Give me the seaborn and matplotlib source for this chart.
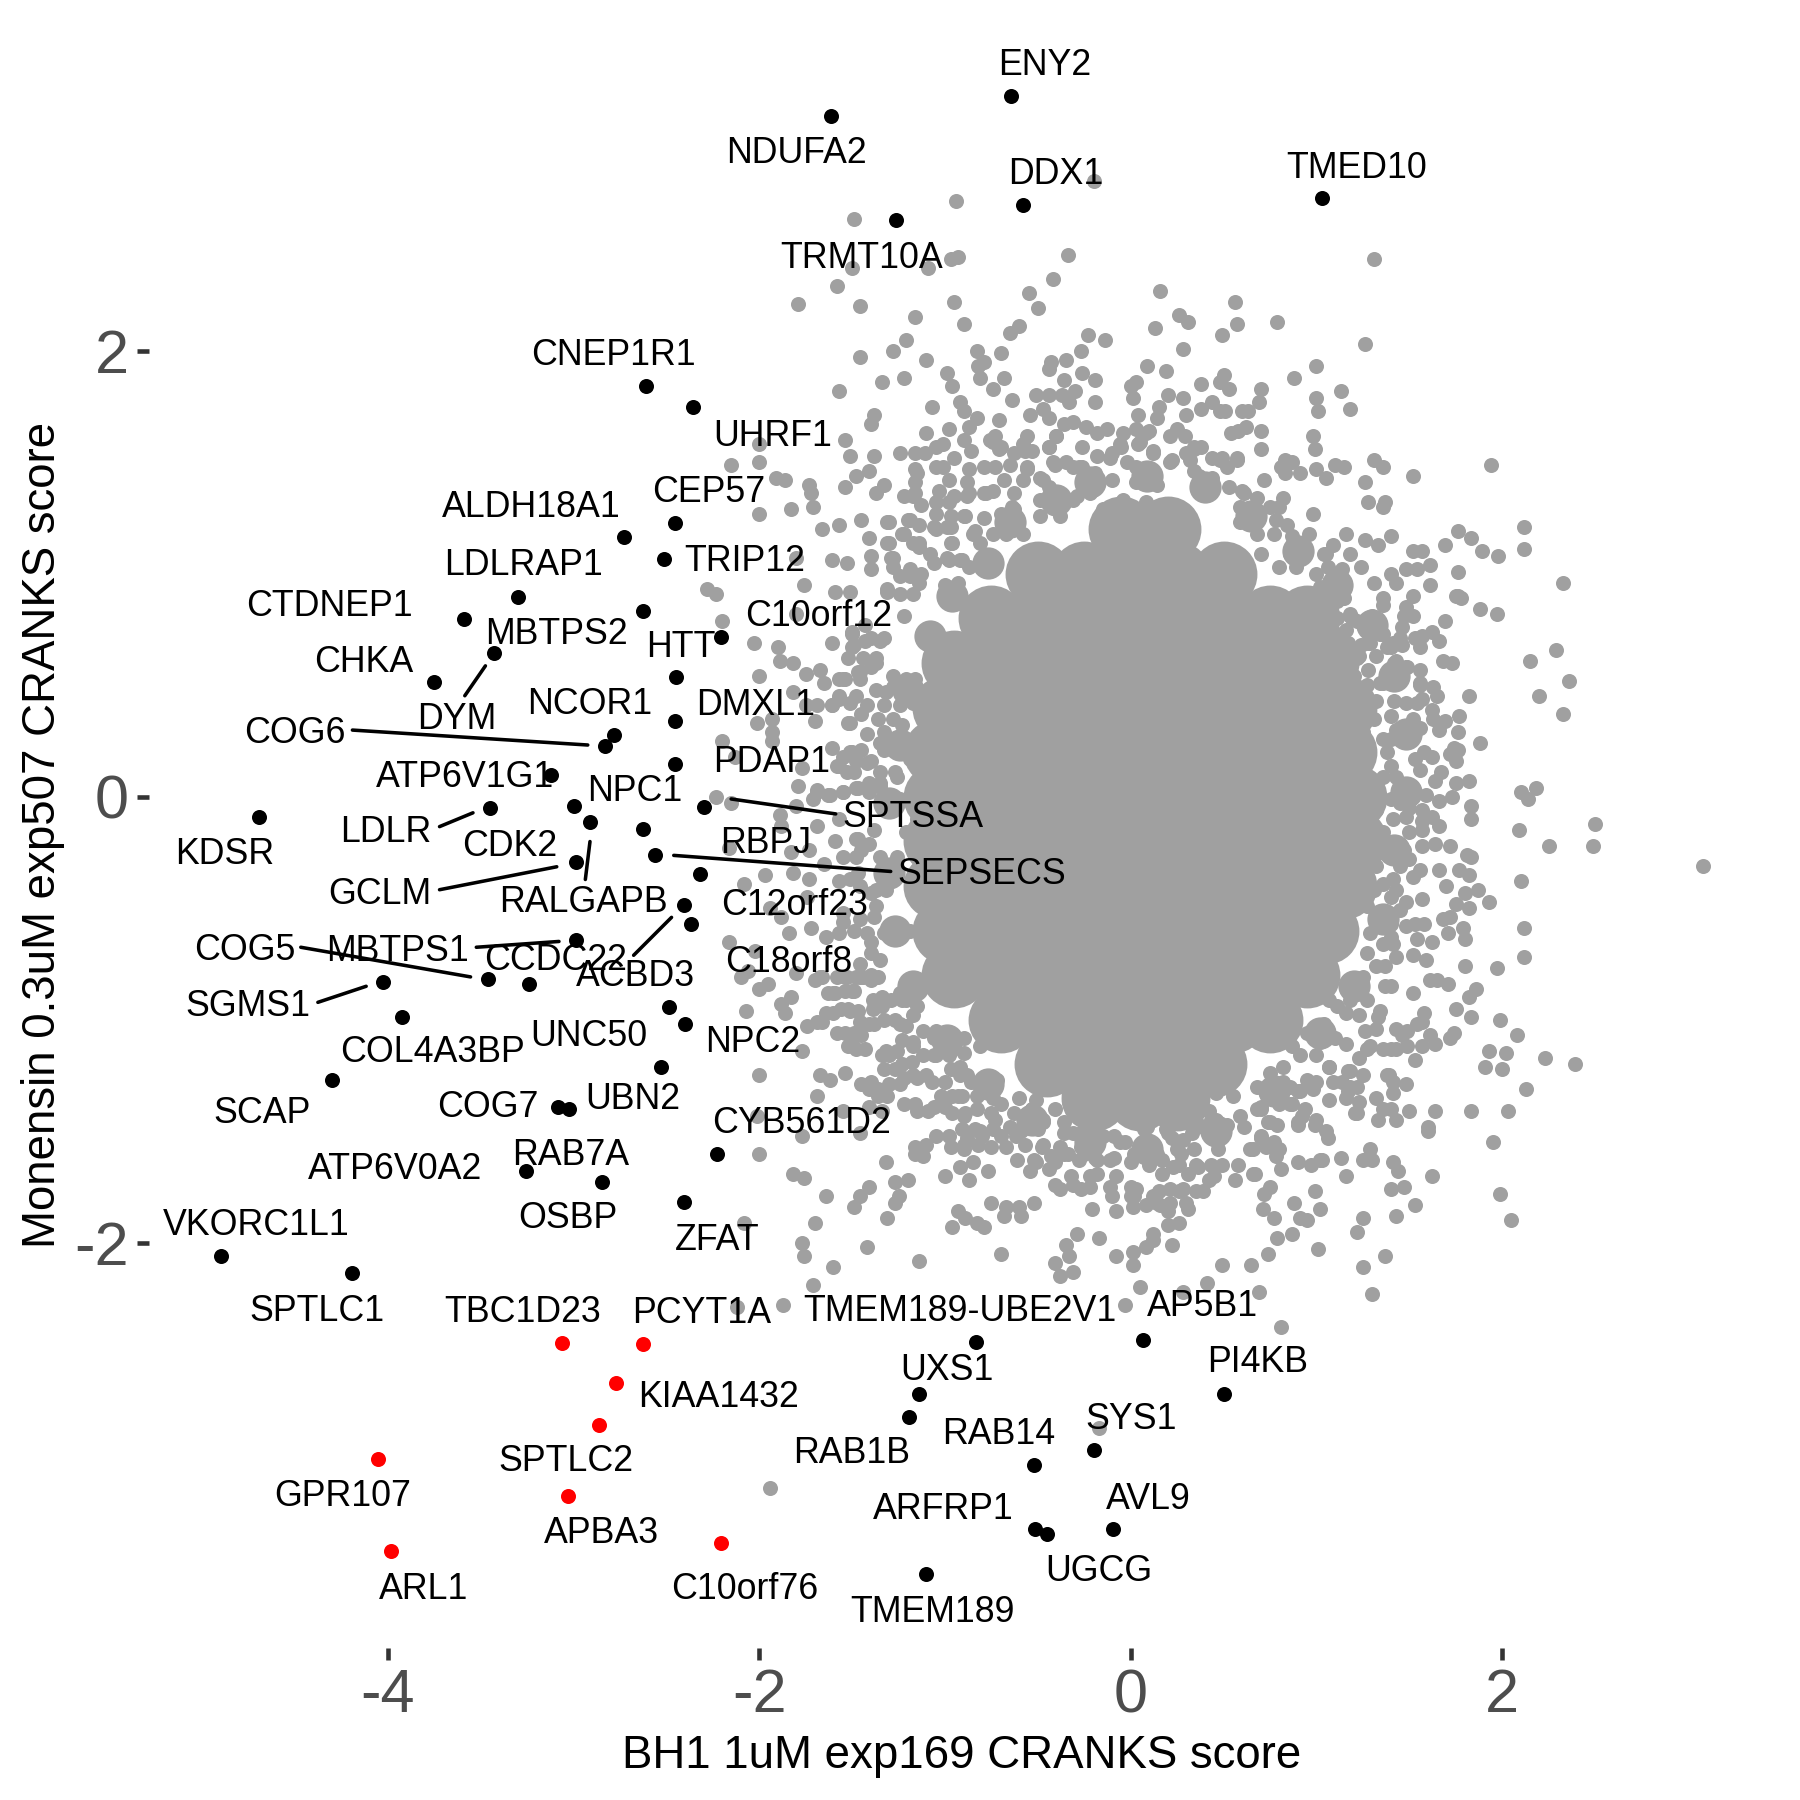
import seaborn as sns
import pandas as pd
import matplotlib.pyplot as plt

grey_top_left = [
    (-0.94,2.67),(-1.49,2.59),(-0.34,2.43),(-0.93,2.42),(-0.97,2.41),(-1.50,2.37),(-1.09,2.37),(-1.58,2.29),
    (-0.42,2.32),(-0.55,2.26),(-1.79,2.21),(-1.46,2.20),(-0.95,2.22),(-0.50,2.19),(-1.16,2.15),(-0.90,2.12),
    (-0.60,2.11),(-0.65,2.08),(-1.21,2.05),(-1.28,2.00),(-1.46,1.97),(-1.10,1.96),(-0.83,2.00),(-0.70,1.99),
    (-0.79,1.95),(-0.82,1.93),(-0.81,1.88),(-0.99,1.90),(-1.22,1.88),(-1.34,1.86),(-0.96,1.84),(-0.68,1.88),
    (-0.74,1.83),(-1.57,1.82),(-0.64,1.78),(-0.92,1.77),(-0.90,1.73),(-1.07,1.75),(-1.38,1.71),(-1.40,1.67),
    (-0.83,1.70),(-0.87,1.66),(-0.71,1.69),(-0.98,1.65),(-1.10,1.63),(-1.54,1.60),(-0.90,1.60),(-1.01,1.58),
    (-1.05,1.57),(-0.73,1.62),(-0.76,1.60),(-0.70,1.57),(-1.24,1.54),(-1.51,1.53),(-1.38,1.53),(-1.16,1.54),
    (-1.11,1.54),(-2.00,1.58),(-2.00,1.50),(-2.15,1.49),(-1.41,1.46),(-1.48,1.44),(-1.91,1.43),(-1.86,1.42),
    (-1.73,1.40),(-1.72,1.36),(-1.54,1.39),(-1.33,1.40),(-1.37,1.36),(-0.95,1.52),(-1.16,1.47),(-1.16,1.41),
    (-1.16,1.36),(-1.05,1.48),(-1.01,1.48),(-0.98,1.42),(-0.87,1.47),(-0.79,1.48),(-0.73,1.48),(-0.65,1.49),
    (-0.56,1.62),(-0.58,1.58),(-0.53,1.55),(-0.56,1.48),(-0.58,1.42),(-0.68,1.42),(-1.83,1.29),(-1.71,1.30),
    (-2.00,1.27),(-1.66,1.20),(-1.57,1.22),(-1.45,1.24),(-1.30,1.23),(-1.41,1.16),(-1.30,1.14),(-1.20,1.24),
    (-1.22,1.35),(-1.13,1.31),(-1.14,1.22),(-1.22,1.18),(-1.06,1.21),(-0.96,1.14),(-1.14,1.14),(-1.80,1.07),
    (-1.61,1.06),(-1.53,1.05),(-1.40,1.08),(-1.40,1.02),(-1.28,1.07),(-1.28,1.03),(-2.28,0.93),(-2.23,0.91),
    (-1.76,0.95),(-1.59,0.92),(-1.51,0.92),(-1.31,0.93),(-1.06,1.05),(-0.99,1.07),(-0.92,1.06),(-1.19,0.99),
    (-1.14,0.96),(-1.00,0.95),(-0.93,0.96),(-0.23,2.07),(-0.27,2.00),(-0.35,1.96),(-0.43,1.95),(-0.44,1.92),
    (-0.36,1.87),(-0.26,1.90),(-0.19,1.87),(-0.51,1.80),(-0.44,1.80),(-0.37,1.80),(-0.33,1.77),(-0.30,1.82),
    (-0.19,1.77),(-0.54,1.71),(-0.47,1.74),(-0.44,1.70),(-0.36,1.67),(-0.31,1.68),(-0.24,1.66),(-0.40,1.62),
    (-0.44,1.57),(-0.26,1.57),(-0.41,1.49),(-0.35,1.50),(-0.26,1.48),(-0.49,1.43),(-0.44,1.39),(-0.31,1.33),
    (-0.22,1.36),(-0.79,1.36),(-0.74,1.37),(-0.88,1.35),(-1.03,1.37),(-0.63,1.29),(-0.79,1.25),(-0.89,1.26),
    (-0.70,1.27),(-0.99,1.21),(-0.85,1.18),(-0.20,2.76),
]
grey_top_right = [
    (1.31,2.41),(0.16,2.27),(0.56,2.22),(0.26,2.16),(0.31,2.13),(0.79,2.13),(0.13,2.10),(0.57,2.12),
    (0.49,2.07),(-0.14,2.05),(0.28,2.01),(1.26,2.03),(1.00,1.93),(0.09,1.93),(0.19,1.91),(0.88,1.88),
    (0.50,1.89),(0.48,1.86),(0.53,1.83),(0.38,1.85),(0.03,1.86),(0.00,1.84),(0.01,1.79),(0.20,1.80),
    (0.28,1.79),(0.70,1.83),(0.69,1.77),(1.00,1.79),(1.13,1.82),(1.01,1.73),(1.18,1.74),(0.15,1.75),
    (0.14,1.70),(0.04,1.71),(0.30,1.71),(0.38,1.74),(0.44,1.77),(0.48,1.73),(0.51,1.73),(0.60,1.73),
    (0.63,1.73),(0.62,1.66),(0.58,1.64),(0.54,1.63),(0.70,1.64),(0.98,1.62),(0.99,1.56),(0.70,1.56),
    (1.31,1.51),(1.36,1.48),(1.94,1.49),(0.83,1.51),(0.87,1.50),(0.81,1.48),(0.83,1.45),(0.91,1.45),
    (1.00,1.47),(1.05,1.43),(1.10,1.49),(1.15,1.48),(1.52,1.44),(1.26,1.41),(0.72,1.42),(1.28,1.32),
    (1.37,1.32),(1.36,1.30),(0.68,1.34),(0.82,1.34),(0.75,1.30),(0.80,1.30),(0.98,1.27),(2.12,1.21),
    (2.12,1.11),(1.76,1.19),(1.83,1.16),(1.69,1.13),(1.89,1.10),(1.98,1.08),(1.52,1.10),(1.57,1.10),
    (1.61,1.04),(1.54,1.02),(1.48,1.02),(1.40,1.00),(1.43,0.96),(1.31,0.96),(1.61,0.95),(1.76,1.01),
    (2.33,0.96),(1.40,1.17),(1.33,1.13),(1.26,1.15),(1.16,1.18),(1.09,1.13),(1.05,1.09),(1.18,1.09),
    (1.24,1.03),(1.14,1.02),(0.96,1.18),(1.52,0.90),(1.76,0.90),(1.36,0.89),(1.15,0.89),(1.10,0.89),
    (0.57,1.51),(0.52,1.48),(0.60,1.37),(0.53,1.39),(0.48,1.51),(0.38,1.57),(0.34,1.57),(0.30,1.54),
    (0.21,1.62),(0.29,1.62),(0.25,1.65),(0.08,1.63),(0.03,1.65),(-0.04,1.63),(-0.13,1.65),(0.04,1.58),
    (-0.05,1.57),(0.12,1.55),(0.22,1.51),(-0.10,1.54),
]
grey_right = [
    (1.97,0.82),(1.88,0.84),(1.78,0.89),(1.75,0.90),(1.69,0.79),(1.52,0.81),(1.48,0.85),(1.36,0.86),
    (1.30,0.81),(1.46,0.76),(1.35,0.73),(1.62,0.74),(1.66,0.70),(1.57,0.72),(1.53,0.71),(1.56,0.67),
    (1.28,0.69),(1.24,0.68),(1.46,0.68),(1.38,0.67),(2.29,0.66),(2.15,0.61),(1.68,0.61),(1.73,0.60),
    (2.36,0.52),(1.56,0.57),(1.48,0.58),(1.56,0.51),(2.20,0.45),(1.63,0.49),(1.65,0.45),(1.57,0.44),
    (1.82,0.45),(2.33,0.37),(1.77,0.36),(1.62,0.39),(1.63,0.35),(1.69,0.34),(1.66,0.30),(1.76,0.29),
    (1.52,0.35),(1.56,0.31),(1.48,0.30),(1.88,0.24),(1.48,0.25),(1.74,0.22),(1.76,0.21),(1.72,0.19),
    (1.75,0.16),(1.58,0.20),(1.62,0.18),(1.53,0.17),(1.56,0.12),(1.40,0.14),(1.67,0.11),(1.64,0.07),
    (1.75,0.06),(1.82,0.07),(2.18,0.04),(2.10,0.02),(2.14,-0.01),(1.73,0.00),(1.66,-0.02),(1.83,-0.04),
    (1.83,-0.10),(1.52,0.04),(1.59,0.01),(2.50,-0.12),(2.09,-0.15),(2.25,-0.22),(2.49,-0.22),(3.08,-0.31),
    (1.62,-0.09),(1.66,-0.13),(1.57,-0.11),(1.50,-0.16),(1.57,-0.15),(1.64,-0.21),(1.72,-0.22),(1.57,-0.22),
    (1.81,-0.26),(1.83,-0.27),(1.77,-0.33),(1.82,-0.35),(1.66,-0.33),(1.70,-0.40),(1.56,-0.33),(1.52,-0.36),
    (2.10,-0.38),(1.80,-0.43),(1.87,-0.42),(1.93,-0.47),(1.57,-0.46),(1.82,-0.50),(1.75,-0.48),(1.48,-0.47),
    (1.45,-0.51),(1.72,-0.54),(1.68,-0.55),(2.12,-0.59),(1.79,-0.59),(1.71,-0.61),(1.80,-0.64),(1.58,-0.57),
    (1.53,-0.57),(1.48,-0.58),(1.40,-0.57),(1.33,-0.52),(1.62,-0.65),(1.54,-0.64),(1.41,-0.66),
]
grey_bottom_right = [
    (2.12,-0.72),(1.97,-0.77),(1.80,-0.76),(1.59,-0.73),(1.52,-0.71),(1.43,-0.72),(1.37,-0.76),(1.37,-0.85),
    (1.40,-0.85),(1.61,-0.82),(1.65,-0.82),(1.71,-0.84),(1.86,-0.86),(1.82,-0.90),(1.52,-0.88),(1.75,-0.95),
    (1.83,-0.99),(1.99,-1.00),(1.58,-0.97),(1.57,-1.01),(1.54,-1.02),(1.34,-0.96),(1.33,-0.99),(1.43,-1.04),
    (1.49,-1.05),(1.46,-1.07),(1.32,-1.04),(1.26,-1.05),(1.74,-1.06),(1.72,-1.08),(2.08,-1.07),(1.61,-1.07),
    (1.64,-1.11),(1.57,-1.12),(1.49,-1.12),(1.43,-1.13),(1.40,-1.13),(1.36,-1.13),(1.93,-1.14),(2.02,-1.15),
    (2.23,-1.17),(2.39,-1.20),(1.91,-1.21),(2.00,-1.22),(1.53,-1.18),(1.29,-1.12),(1.23,-1.17),(1.10,-1.08),
    (1.16,-1.11),(1.07,-1.21),(1.17,-1.23),(1.25,-1.25),(1.38,-1.25),(1.41,-1.28),(1.48,-1.29),(1.41,-1.33),
    (1.09,-1.28),(1.14,-1.28),(1.22,-1.30),(1.17,-1.32),(2.13,-1.31),(1.32,-1.35),(1.07,-1.36),(1.16,-1.35),
    (1.00,-1.28),(0.98,-1.31),(0.91,-1.32),(1.23,-1.37),(1.21,-1.42),(1.36,-1.40),(1.40,-1.40),(1.50,-1.41),
    (1.64,-1.41),(1.83,-1.41),(2.03,-1.41),(1.33,-1.45),(1.43,-1.45),(1.60,-1.48),(1.60,-1.50),(0.94,-1.40),
    (0.92,-1.43),(0.90,-1.47),(1.00,-1.45),(0.99,-1.47),(1.05,-1.50),(1.06,-1.53),(1.95,-1.55),(0.80,-1.38),
    (0.87,-1.38),(0.70,-1.40),(0.74,-1.46),(0.79,-1.47),(0.70,-1.53),(0.77,-1.55),(0.66,-1.58),(0.73,-1.57),
    (0.80,-1.58),(0.78,-1.61),(1.29,-1.58),(1.25,-1.63),(1.30,-1.63),(1.13,-1.62),(1.02,-1.63),(0.97,-1.65),
    (0.90,-1.64),(0.81,-1.67),(0.67,-1.69),(1.16,-1.70),(1.41,-1.64),(1.44,-1.68),(1.62,-1.70),(1.40,-1.76),
    (1.47,-1.75),(1.99,-1.78),(0.75,-1.75),(0.72,-1.78),(0.99,-1.77),(0.88,-1.82),(1.53,-1.83),(1.02,-1.85),
    (0.71,-1.85),(0.77,-1.89),(0.91,-1.89),(0.95,-1.90),(1.25,-1.89),(1.43,-1.88),(2.05,-1.90),(1.22,-1.95),
    (0.87,-1.96),(0.79,-1.98),(0.74,-2.05),(1.01,-2.03),(1.37,-2.06),(1.25,-2.11),(0.65,-2.10),(1.30,-2.23),
    (0.69,-2.22),(0.81,-2.38),
]
grey_bottom_left = [
    (-2.10,-0.81),(-2.00,-0.86),(-1.95,-0.84),(-1.83,-0.90),(-1.88,-0.93),(-1.86,-0.97),(-2.07,-0.96),(-1.70,-0.82),
    (-1.63,-0.88),(-1.54,-0.87),(-1.58,-0.81),(-1.44,-0.81),(-1.39,-0.91),(-1.39,-0.95),(-1.56,-0.95),(-1.51,-0.96),
    (-1.64,-0.97),(-1.69,-1.01),(-1.74,-1.03),(-1.58,-1.06),(-1.46,-1.01),(-1.49,-1.06),(-1.50,-1.11),(-1.52,-1.12),
    (-1.48,-1.13),(-1.38,-1.02),(-1.33,-1.00),(-1.24,-1.02),(-1.23,-1.09),(-1.17,-1.12),(-1.29,-0.91),(-1.21,-0.91),
    (-1.77,-1.14),(-1.32,-1.14),(-1.34,-1.16),(-1.12,-1.05),(-1.06,-1.08),(-1.12,-1.16),(-1.06,-1.16),(-0.98,-1.16),
    (-1.23,-1.20),(-1.33,-1.22),(-1.17,-1.25),(-1.22,-1.26),(-2.00,-1.25),(-1.67,-1.25),(-1.62,-1.27),(-1.54,-1.24),
    (-1.45,-1.29),(-1.41,-1.31),(-1.36,-1.34),(-1.30,-1.29),(-1.07,-1.28),(-0.97,-1.22),(-0.92,-1.25),(-0.86,-1.28),
    (-1.69,-1.34),(-1.02,-1.34),(-1.06,-1.39),(-0.91,-1.34),(-1.22,-1.38),(-1.15,-1.41),(-1.34,-1.41),(-1.41,-1.39),
    (-1.55,-1.41),(-2.01,-1.43),(-0.96,-1.42),(-0.89,-1.42),(-0.60,-1.35),(-0.70,-1.38),(-0.75,-1.42),(-0.53,-1.40),
    (-1.77,-1.52),(-1.46,-1.51),(-1.05,-1.52),(-0.91,-1.49),(-0.88,-1.53),(-0.81,-1.50),(-0.73,-1.45),(-0.70,-1.52),
    (-0.59,-1.50),(-0.47,-1.46),(-0.36,-1.51),(-0.31,-1.51),(-0.23,-1.51),(-0.18,-1.54),(-1.16,-1.57),(-1.12,-1.61),
    (-1.16,-1.60),(-0.97,-1.57),(-0.75,-1.57),(-0.57,-1.56),(-0.48,-1.57),(-0.43,-1.61),(-0.36,-1.60),(-2.00,-1.60),
    (-0.90,-1.58),(-0.85,-1.64),(-0.92,-1.66),(-1.32,-1.64),(-0.61,-1.63),(-0.51,-1.64),(-0.54,-1.68),(-0.28,-1.63),
    (-0.19,-1.62),(-0.11,-1.63),(0.02,-1.60),(0.13,-1.58),(0.17,-1.63),(0.34,-1.58),(-0.03,-1.55),(0.07,-1.49),
    (0.20,-1.51),(0.28,-1.54),(0.37,-1.47),(0.43,-1.45),(-1.82,-1.69),(-1.76,-1.71),(-1.00,-1.70),(-0.77,-1.68),
    (-0.87,-1.72),(-1.20,-1.72),(-1.27,-1.73),(-1.41,-1.75),(-1.46,-1.79),(-1.49,-1.84),(-1.64,-1.79),(-1.25,-1.79),
    (-1.27,-1.82),(-1.31,-1.89),(-0.32,-1.70),(-0.41,-1.74),(-0.38,-1.76),(-0.18,-1.69),(-0.22,-1.75),(-0.11,-1.75),
    (-0.10,-1.79),(0.00,-1.79),(0.10,-1.65),(0.17,-1.69),(0.23,-1.66),(0.31,-1.69),(0.35,-1.65),(0.43,-1.65),
    (0.42,-1.72),(0.15,-1.77),(0.21,-1.76),(0.26,-1.77),(0.01,-1.84),(0.08,-1.83),(0.14,-1.82),(0.20,-1.86),
    (0.31,-1.85),(-0.75,-1.82),(-0.67,-1.84),(-0.68,-1.88),(-0.60,-1.84),(-0.59,-1.88),(-0.52,-1.82),(-0.21,-1.85),
    (-0.08,-1.86),(-0.93,-1.86),(-0.89,-1.89),(-0.83,-1.91),(-0.79,-1.93),(-0.96,-1.93),(-1.70,-1.91),(-2.08,-1.91),
    (-1.77,-2.00),(-1.76,-2.06),(-1.42,-2.02),(-1.60,-2.11),(-1.14,-2.08),(-0.70,-2.05),(-1.71,-2.19),(-1.87,-2.28),
    (-2.12,-2.29),(-0.29,-1.96),(-0.17,-1.98),(-0.35,-2.01),(-0.33,-2.06),(-0.41,-2.09),(-0.31,-2.13),(-0.38,-2.15),
    (-0.08,-2.06),(0.01,-2.04),(0.01,-2.10),(0.08,-2.02),(0.12,-1.99),(0.12,-1.96),(0.22,-2.01),(0.20,-1.92),
    (0.26,-1.91),(0.05,-2.20),(-0.03,-2.28),(0.28,-2.22),(0.41,-2.18),(0.49,-2.10),(-0.17,-2.83),(-1.94,-3.10),
]
grey_left = [
    (-1.31,0.92),(-2.20,0.79),(-1.80,0.82),(-1.50,0.73),(-2.03,0.69),(-1.90,0.67),(-1.61,0.69),(-1.89,0.61),
    (-1.82,0.60),(-1.50,0.67),(-1.52,0.62),(-1.43,0.70),(-1.35,0.70),(-2.00,0.54),(-1.75,0.55),(-1.67,0.57),
    (-1.65,0.51),(-1.55,0.53),(-1.46,0.56),(-1.37,0.60),(-1.82,0.47),(-1.75,0.41),(-1.69,0.41),(-1.93,0.35),
    (-2.01,0.33),(-1.93,0.29),(-1.93,0.25),(-1.70,0.34),(-1.61,0.41),(-1.57,0.44),(-1.48,0.45),(-1.52,0.33),
    (-1.45,0.37),(-2.20,0.25),(-2.13,0.18),(-1.61,0.22),(-1.77,0.13),(-1.57,0.14),(-1.51,0.20),(-1.42,0.15),
    (-1.49,0.11),(-1.79,0.05),(-1.69,0.02),(-1.63,0.01),(-1.71,-0.01),(-1.55,0.02),(-1.47,0.04),(-1.35,0.06),
    (-2.23,0.00),(-2.15,-0.03),(-1.80,-0.04),(-1.89,-0.08),(-1.88,-0.13),(-1.69,-0.13),(-1.57,-0.10),(-1.59,-0.20),
    (-1.48,-0.19),(-2.16,-0.23),(-1.83,-0.25),(-1.73,-0.24),(-1.65,-0.30),(-1.55,-0.27),(-1.97,-0.35),(-1.82,-0.34),
    (-1.73,-0.37),(-2.08,-0.39),(-1.57,-0.38),(-1.46,-0.40),(-1.94,-0.50),(-1.88,-0.54),(-1.74,-0.45),(-1.55,-0.52),
    (-1.46,-0.55),(-1.72,-0.59),(-1.84,-0.61),(-1.64,-0.63),(-2.16,-0.65),(-2.02,-0.69),(-2.06,-0.78),(-1.80,-0.79),
    (-1.60,-0.88),(-1.50,-0.87),(-1.53,-0.81),(-1.46,-0.81),(-1.40,-0.82),(-1.67,-0.81),
]
# dense ring around the solid middle
grey_ring_top = [
    (-0.86,1.55),(-0.74,1.59),(-0.71,1.56),(-0.63,1.54),(-0.57,1.55),(-0.56,1.47),(-1.15,1.45),(-1.17,1.35),
    (-0.88,1.41),(-0.95,1.35),(-0.87,1.36),(-0.78,1.36),(-0.63,1.36),(-1.05,1.32),(-0.98,1.32),(-0.97,1.26),
    (-1.05,1.27),(-0.90,1.26),(-0.64,1.30),(-0.62,1.25),(-1.19,1.24),(-1.05,1.20),(-0.97,1.21),(-0.84,1.19),
    (-1.31,1.23),(-1.23,1.18),(-1.31,1.14),(-0.97,1.14),(-1.17,1.14),(-1.14,1.12),(-1.08,1.09),(-1.29,1.07),
    (-1.19,1.02),(-1.13,1.00),(-1.24,0.99),(-0.98,1.06),(-0.91,1.06),(-0.87,1.03),(-0.81,1.14),(-0.76,1.08),
    (-0.74,1.18),(-0.67,1.18),(-0.58,1.18),(-0.47,1.42),(-0.42,1.50),(-0.28,1.48),(-0.49,1.33),(-0.40,1.33),
    (-0.29,1.35),(-0.20,1.38),(-0.18,1.53),(-0.11,1.52),(-0.02,1.50),(0.03,1.48),(0.12,1.54),(0.21,1.50),
    (-0.10,1.42),(0.03,1.41),(0.14,1.40),(-0.31,1.48),(-0.19,1.45),(-0.49,1.26),(-0.38,1.26),(-0.15,1.29),
    (-0.04,1.33),(0.08,1.32),(-0.06,1.58),(0.05,1.59),(0.10,1.64),(-0.44,1.57),(-0.40,1.62),(-0.18,1.63),
    (0.34,1.56),(0.44,1.52),(0.49,1.52),(0.57,1.52),(0.32,1.51),(0.34,1.46),(0.44,1.43),(0.37,1.44),
    (0.61,1.36),(0.44,1.38),(0.59,1.30),(0.69,1.26),(0.78,1.24),(0.84,1.22),(0.59,1.23),(0.68,1.18),
    (0.77,1.18),(0.87,1.17),(0.94,1.11),(0.86,1.09),(0.70,1.09),(0.80,1.03),(0.89,1.03),(1.04,1.09),
    (1.06,1.03),(1.00,1.00),(1.09,0.95),(1.02,0.94),(1.05,0.88),(1.11,0.88),(1.18,0.82),(1.19,0.80),
    (0.98,0.81),(1.04,0.81),(1.11,0.80),(1.16,0.75),(1.17,0.69),(1.07,0.73),(0.98,0.77),(1.29,0.69),
    (1.22,0.62),(1.32,0.63),(1.34,0.73),(1.30,0.80),(1.40,0.67),(1.45,0.71),(1.47,0.81),(1.42,0.60),
    (1.49,0.58),(1.56,0.50),(1.34,0.51),(1.39,0.54),(1.20,0.54),(1.27,0.50),(1.13,0.59),
]
grey_ring_left = [
    (-1.24,0.91),(-1.17,0.91),(-1.22,0.81),(-1.50,0.74),(-1.43,0.77),(-1.49,0.68),(-1.40,0.71),(-1.33,0.71),
    (-1.44,0.62),(-1.37,0.62),(-1.47,0.56),(-1.40,0.58),(-1.46,0.53),(-1.57,0.53),(-1.54,0.53),(-1.28,0.54),
    (-1.21,0.53),(-1.16,0.53),(-1.37,0.48),(-1.32,0.47),(-1.28,0.49),(-1.57,0.45),(-1.61,0.41),(-1.51,0.42),
    (-1.42,0.41),(-1.33,0.41),(-1.24,0.41),(-1.17,0.42),(-1.36,0.35),(-1.28,0.35),(-1.51,0.33),(-1.42,0.28),
    (-1.33,0.29),(-1.23,0.32),(-1.21,0.26),(-1.50,0.20),(-1.55,0.18),(-1.45,0.21),(-1.33,0.21),(-1.24,0.21),
    (-1.35,0.24),(-1.58,0.14),(-1.53,0.11),(-1.48,0.16),(-1.40,0.16),(-1.35,0.11),(-1.27,0.11),(-1.19,0.17),
    (-1.41,0.06),(-1.35,0.05),(-1.41,0.02),(-1.26,0.09),(-1.48,0.04),(-1.55,0.02),(-1.62,0.01),(-1.69,0.03),
    (-1.15,0.06),(-1.12,0.00),(-1.24,-0.01),(-1.47,-0.19),(-1.45,-0.24),(-1.48,-0.27),(-1.38,-0.15),(-1.41,-0.21),
    (-1.35,-0.27),(-1.26,-0.27),(-1.21,-0.16),(-1.15,-0.10),(-1.14,-0.22),(-1.51,-0.37),(-1.47,-0.34),(-1.37,-0.42),
    (-1.32,-0.42),(-1.37,-0.49),(-1.40,-0.43),(-1.38,-0.54),(-1.55,-0.56),(-1.57,-0.61),(-1.49,-0.60),(-1.42,-0.61),
    (-1.40,-0.65),(-1.33,-0.61),(-1.26,-0.64),(-1.40,-0.70),(-1.35,-0.73),(-1.26,-0.58),(-1.19,-0.60),(-1.46,-0.75),
    (-1.40,-0.80),(-1.54,-0.81),(-1.48,-0.81),(-1.36,-0.81),(-1.66,-0.81),(-1.59,-0.88),(-1.49,-0.87),(-1.34,-0.90),
    (-1.34,-0.94),(-1.24,-0.88),(-1.23,-0.91),(-1.15,-0.94),(-1.17,-0.98),(-1.52,-0.95),(-1.47,-0.96),(-1.60,-0.97),
    (-1.66,-1.01),(-1.41,-1.02),(-1.45,-1.07),(-1.43,-1.13),(-1.54,-1.06),(-1.27,-1.00),(-1.21,-1.03),(-1.17,-1.10),
    (-1.05,-1.05),(-0.99,-1.09),(-1.05,-1.16),(-0.97,-1.14),(-0.90,-1.08),(-0.81,-1.12),(-0.90,-1.15),(-1.26,-1.14),
    (-1.30,-1.16),(-1.27,-1.22),(-1.18,-1.19),(-1.15,-1.26),(-1.10,-1.25),(-1.24,-1.29),(-1.00,-1.28),(-0.92,-1.21),
    (-0.88,-1.25),(-0.78,-1.28),(-0.83,-1.34),(-0.96,-1.34),(-0.93,-1.34),(-1.00,-1.39),(-1.09,-1.41),(-1.16,-1.38),
    (-0.90,-1.43),(-0.83,-1.40),(-0.74,-1.35),(-0.72,-1.27),(-0.84,-1.49),(-0.80,-1.52),(-1.40,-1.28),(-1.36,-1.31),
    (-1.31,-1.34),(-0.98,-1.52),(-0.90,-1.56),(-1.10,-1.56),(-0.82,-1.56),(-0.74,-1.49),
]
grey_ring_bottom = [
    (-0.49,-1.25),(-0.51,-1.36),(-0.63,-1.42),(-0.53,-1.40),(-0.47,-1.45),(-0.41,-1.40),(-0.36,-1.46),(-0.65,-1.48),
    (-0.62,-1.52),(-0.50,-1.49),(-0.67,-1.57),(-0.47,-1.56),(-0.38,-1.57),(-0.34,-1.60),(-0.27,-1.51),(-0.22,-1.52),
    (-0.27,-1.57),(-0.15,-1.52),(-0.09,-1.52),(-0.06,-1.55),(-0.25,-1.60),(-0.18,-1.63),(-0.09,-1.62),(0.00,-1.64),
    (-0.52,-1.63),(-0.41,-1.64),(-0.44,-1.67),(-0.22,-1.70),(-0.31,-1.74),(-0.27,-1.76),(-0.08,-1.70),(0.00,-1.75),
    (0.03,-1.76),(0.02,-1.79),(0.12,-1.79),(0.28,-1.76),(0.35,-1.77),(0.39,-1.77),(0.16,-1.83),(0.21,-1.82),
    (0.30,-1.82),(0.07,-1.40),(0.09,-1.48),(0.09,-1.55),(0.19,-1.49),(0.22,-1.53),(0.14,-1.60),(0.25,-1.58),
    (0.27,-1.60),(0.26,-1.65),(0.36,-1.66),(0.33,-1.51),(0.39,-1.48),(0.42,-1.41),(0.46,-1.45),(0.44,-1.53),
    (0.47,-1.58),(0.49,-1.65),(0.45,-1.70),(0.58,-1.65),(0.56,-1.72),(0.66,-1.69),(0.52,-1.47),(0.61,-1.48),
    (0.59,-1.43),(0.68,-1.40),(0.75,-1.46),(0.64,-1.58),(0.70,-1.52),(0.90,-1.46),(1.03,-1.63),(0.46,-1.33),
    (0.55,-1.34),(0.70,-1.39),(0.80,-1.37),(0.86,-1.38),(0.90,-1.32),(0.95,-1.27),(1.07,-1.21),(1.18,-1.30),
    (1.18,-1.23),(1.22,-1.42),(1.27,-1.13),(1.39,-1.25),(-0.33,-1.30),(-0.33,-1.37),(-0.17,-1.39),(-0.02,-1.40),
    (0.12,-1.40),(-0.17,-1.31),(0.28,-1.34),
]
grey_ring_right = [
    (1.18,0.81),(1.22,0.79),(1.13,0.73),(1.23,0.63),(1.36,0.73),(1.41,0.69),(1.43,0.61),(1.28,0.57),
    (1.36,0.51),(1.40,0.54),(1.32,0.43),(1.42,0.43),(1.48,0.42),(1.54,0.42),(1.40,0.36),(1.31,0.35),
    (1.43,0.30),(1.23,0.40),(1.25,0.29),(1.36,0.26),(1.40,0.26),(1.38,0.20),(1.27,0.17),(1.36,0.09),
    (1.43,0.09),(1.45,0.05),(1.52,0.00),(1.45,-0.03),(1.57,-0.06),(1.50,-0.05),(1.32,0.03),(1.40,-0.01),
    (1.32,-0.06),(1.41,-0.10),(1.48,-0.09),(1.36,-0.16),(1.43,-0.22),(1.47,-0.24),(1.50,-0.28),(1.45,-0.31),
    (1.41,-0.37),(1.36,-0.25),(1.32,-0.31),(1.36,-0.39),(1.40,-0.45),(1.43,-0.42),(1.31,-0.42),(1.27,-0.49),
    (1.32,-0.55),(1.29,-0.61),(1.40,-0.63),(1.36,-0.66),(1.27,-0.70),(1.32,-0.76),(1.25,-0.81),(1.23,-0.85),
    (1.27,-0.91),(1.23,-0.98),(1.16,-0.97),(1.11,-0.94),(1.07,-0.91),(1.18,-0.91),(1.04,-1.02),(0.95,-1.06),
    (0.87,-1.12),(1.02,-1.10),(1.00,-1.16),(0.91,-1.16),(0.82,-1.21),(0.75,-1.24),(0.82,-1.28),(0.68,-1.30),
    (0.73,-1.33),(0.86,-1.30),
]
# solid middle of the cloud: too many overplotted genes to read one by one, so
# it is drawn as bigger discs that give the same filled shape
core_points = [
    (-0.05,1.2),(0.2,1.2),
    (-0.5,1.0),(-0.25,1.0),(0,1.0),(0.25,1.0),(0.5,1.0),
    (-0.75,0.8),(-0.5,0.8),(-0.25,0.8),(0,0.8),(0.25,0.8),(0.5,0.8),(0.75,0.8),(0.95,0.8),
    (-0.95,0.6),(-0.7,0.6),(-0.45,0.6),(-0.2,0.6),(0.05,0.6),(0.3,0.6),(0.55,0.6),(0.8,0.6),(1.05,0.6),
    (-1.0,0.4),(-0.75,0.4),(-0.5,0.4),(-0.25,0.4),(0,0.4),(0.25,0.4),(0.5,0.4),(0.75,0.4),(1.0,0.4),(1.15,0.4),
    (-1.05,0.2),(-0.8,0.2),(-0.55,0.2),(-0.3,0.2),(-0.05,0.2),(0.2,0.2),(0.45,0.2),(0.7,0.2),(0.95,0.2),(1.15,0.2),
    (-1.05,0),(-0.8,0),(-0.55,0),(-0.3,0),(-0.05,0),(0.2,0),(0.45,0),(0.7,0),(0.95,0),(1.2,0),
    (-1.05,-0.2),(-0.8,-0.2),(-0.55,-0.2),(-0.3,-0.2),(-0.05,-0.2),(0.2,-0.2),(0.45,-0.2),(0.7,-0.2),(0.95,-0.2),(1.2,-0.2),
    (-1.05,-0.4),(-0.8,-0.4),(-0.55,-0.4),(-0.3,-0.4),(-0.05,-0.4),(0.2,-0.4),(0.45,-0.4),(0.7,-0.4),(0.95,-0.4),(1.15,-0.4),
    (-1.0,-0.6),(-0.75,-0.6),(-0.5,-0.6),(-0.25,-0.6),(0,-0.6),(0.25,-0.6),(0.5,-0.6),(0.75,-0.6),(1.05,-0.6),
    (-0.95,-0.8),(-0.7,-0.8),(-0.45,-0.8),(-0.2,-0.8),(0.05,-0.8),(0.3,-0.8),(0.55,-0.8),(0.8,-0.8),(0.95,-0.8),
    (-0.7,-1.0),(-0.45,-1.0),(-0.2,-1.0),(0.05,-1.0),(0.3,-1.0),(0.55,-1.0),(0.75,-1.0),
    (-0.45,-1.2),(-0.2,-1.2),(0.05,-1.2),(0.3,-1.2),(0.45,-1.2),
    (-0.2,-1.35),(0.05,-1.35),(0.25,-1.35),
]
# edge of that solid part, same stand-in with smaller discs
core_edge = [
    (-0.77,1.05),(-0.96,0.90),(-1.08,0.72),(-0.65,1.23),(-0.40,1.33),(-1.20,0.48),(-1.24,0.23),(-1.30,-0.03),
    (-1.30,-0.34),(-1.27,-0.60),(-1.17,-0.85),(-0.99,-1.09),(-0.77,-1.29),(-0.53,-1.45),(-0.22,-1.55),(0.09,-1.58),
    (0.46,-1.50),(0.77,-1.32),(1.02,-1.06),(1.20,-0.85),(1.36,-0.55),(1.42,-0.24),(1.48,0.02),(1.48,0.28),
    (1.42,0.54),(1.30,0.77),(1.11,0.95),(0.90,1.10),(0.65,1.26),(0.40,1.39),(0.09,1.44),(-0.22,1.41),
]

# highlighted genes
black_x = [-0.643,-1.613,-0.581,1.032,-1.261,-2.608,-2.355,-2.726,-2.454,-2.515,-3.300,-3.591,-2.627,-2.206,-2.447,
           -3.752,-3.430,-2.781,-2.454,-2.831,-2.454,-3.121,-2.998,-2.299,-3.449,-2.911,-2.627,-4.691,-2.559,-2.985,
           -2.318,-2.404,-2.367,-2.985,-3.461,-3.239,-4.023,-3.925,-2.485,-2.398,-4.302,-2.528,-3.084,-3.022,-2.225,
           -3.257,-2.849,-2.404,-4.895,-4.190,-0.834,0.068,0.501,-1.137,-1.193,-0.198,-0.519,-0.513,-0.093,-0.451,-1.100]
black_y = [3.141,3.054,2.652,2.683,2.585,1.843,1.746,1.164,1.226,1.066,0.896,0.798,0.834,0.716,0.536,
           0.515,0.644,0.278,0.340,0.227,0.149,0.098,-0.041,-0.046,-0.051,-0.113,-0.144,-0.093,-0.263,-0.294,
           -0.345,-0.484,-0.572,-0.644,-0.819,-0.839,-0.829,-0.989,-0.942,-1.020,-1.272,-1.210,-1.390,-1.401,-1.601,
           -1.679,-1.730,-1.818,-2.060,-2.137,-2.446,-2.436,-2.678,-2.678,-2.781,-2.930,-2.997,-3.285,-3.285,-3.306,-3.486]
red_x = [-3.059,-2.627,-2.769,-2.862,-4.054,-3.028,-3.980,-2.206]
red_y = [-2.451,-2.456,-2.631,-2.817,-2.971,-3.136,-3.383,-3.347]

# gene names and where the label sits
label_names = ["ENY2","NDUFA2","DDX1","TMED10","TRMT10A","CNEP1R1","UHRF1","ALDH18A1","CEP57","TRIP12","LDLRAP1",
               "CTDNEP1","MBTPS2","C10orf12","HTT","CHKA","DYM","NCOR1","DMXL1","COG6","PDAP1","ATP6V1G1","NPC1",
               "SPTSSA","LDLR","CDK2","RBPJ","KDSR","SEPSECS","GCLM","RALGAPB","C12orf23","C18orf8","MBTPS1","ACBD3",
               "COG5","CCDC22","SGMS1","COL4A3BP","UNC50","NPC2","SCAP","UBN2","COG7","RAB7A","CYB561D2","ATP6V0A2",
               "OSBP","ZFAT","VKORC1L1","SPTLC1","TMEM189-UBE2V1","AP5B1","PI4KB","UXS1","RAB1B","SYS1","RAB14",
               "ARFRP1","AVL9","UGCG","TMEM189","TBC1D23","PCYT1A","KIAA1432","SPTLC2","GPR107","APBA3","ARL1","C10orf76"]
label_x = [-0.464,-1.799,-0.402,1.218,-1.446,-2.787,-1.928,-3.226,-2.274,-2.077,-3.269,
           -4.314,-3.090,-1.681,-2.423,-4.128,-3.628,-2.911,-2.021,-4.499,-1.934,-3.585,-2.670,
           -1.174,-4.011,-3.344,-1.965,-4.876,-0.803,-4.042,-2.948,-1.811,-1.842,-3.949,-2.664,
           -4.771,-3.096,-4.753,-3.758,-2.917,-2.033,-4.679,-2.682,-3.461,-3.016,-1.774,-3.962,
           -3.028,-2.225,-4.709,-4.382,-0.921,0.389,0.686,-0.989,-1.502,0.000,-0.711,
           -1.007,0.093,-0.173,-1.069,-3.276,-2.311,-2.219,-3.041,-4.240,-2.849,-3.807,-2.077]
label_y = [3.290,2.899,2.801,2.832,2.425,1.993,1.627,1.308,1.375,1.066,1.050,
           0.865,0.742,0.819,0.680,0.613,0.360,0.427,0.422,0.294,0.165,0.098,0.036,
           -0.082,-0.149,-0.211,-0.196,-0.247,-0.335,-0.427,-0.463,-0.474,-0.731,-0.680,-0.793,
           -0.675,-0.721,-0.927,-1.133,-1.061,-1.092,-1.406,-1.344,-1.380,-1.596,-1.452,-1.658,
           -1.880,-1.977,-1.910,-2.297,-2.297,-2.276,-2.523,-2.559,-2.935,-2.781,-2.848,
           -3.182,-3.141,-3.460,-3.646,-2.302,-2.307,-2.683,-2.971,-3.126,-3.290,-3.543,-3.543]

# repel segments: x0, y0, x1, y1
seg_x0 = [-3.585,-4.190,-2.151,-3.721,-2.460,-3.721,-2.911,-3.523,-2.676,-4.468,-4.376]
seg_y0 = [0.453,0.299,-0.010,-0.134,-0.263,-0.417,-0.201,-0.675,-0.711,-0.675,-0.922]
seg_x1 = [-3.474,-2.923,-1.588,-3.541,-1.292,-3.090,-2.936,-3.078,-2.472,-3.554,-4.116]
seg_y1 = [0.587,0.232,-0.077,-0.072,-0.335,-0.314,-0.371,-0.649,-0.541,-0.808,-0.850]

x_ticks = [-4, -2, 0, 2]
y_ticks = [-2, 0, 2]
x_title = "BH1 1uM exp169 CRANKS score"
y_title = "Monensin 0.3uM exp507 CRANKS score"

grey_color = "#A0A0A0"

sns.set_style("white")
plt.rcParams['font.family'] = ['Liberation Sans', 'DejaVu Sans']
plt.rcParams['axes.unicode_minus'] = False

fig = plt.figure(figsize=(6, 6), dpi=300)
ax = fig.add_axes([0.0829, 0.0844, 0.912, 0.9105])

grey_all = (grey_top_left + grey_top_right + grey_right + grey_bottom_right + grey_bottom_left + grey_left
            + grey_ring_top + grey_ring_left + grey_ring_bottom + grey_ring_right)
df_grey = pd.DataFrame(grey_all, columns=["x", "y"])
df_core = pd.DataFrame(core_points, columns=["x", "y"])
df_edge = pd.DataFrame(core_edge, columns=["x", "y"])

sns.scatterplot(data=df_core, x="x", y="y", color=grey_color, s=250, linewidth=0, ax=ax, zorder=2)
sns.scatterplot(data=df_edge, x="x", y="y", color=grey_color, s=60, linewidth=0, ax=ax, zorder=2)
sns.scatterplot(data=df_grey, x="x", y="y", color=grey_color, s=13, linewidth=0, ax=ax, zorder=2)
sns.scatterplot(x=black_x, y=black_y, color="black", s=13, linewidth=0, ax=ax, zorder=3)
sns.scatterplot(x=red_x, y=red_y, color="#FF0000", s=13, linewidth=0, ax=ax, zorder=3)

for i in range(len(seg_x0)):
    ax.plot([seg_x0[i], seg_x1[i]], [seg_y0[i], seg_y1[i]], color="black", lw=0.85, zorder=4)
for i in range(len(label_names)):
    ax.annotate(label_names[i], (label_x[i], label_y[i]), xytext=(0, 0.3), textcoords="offset points",
                ha="center", va="center_baseline", fontsize=8.6, color="black", zorder=5)

ax.set_xlim(-5.284, 3.554)
ax.set_ylim(-3.818, 3.532)
ax.set_xticks(x_ticks)
ax.set_yticks(y_ticks)
ax.tick_params(axis="both", length=2.9, width=1.1, color="#333333", labelcolor="#4D4D4D", labelsize=14.7, pad=2, bottom=True, left=True)
ax.set_xlabel(x_title, fontsize=10.95, color="black", labelpad=2, x=0.495)
ax.set_ylabel(y_title, fontsize=10.95, color="black", labelpad=2.2, y=0.496)
sns.despine(ax=ax, left=True, bottom=True)

plt.savefig("out.png", dpi=300)
